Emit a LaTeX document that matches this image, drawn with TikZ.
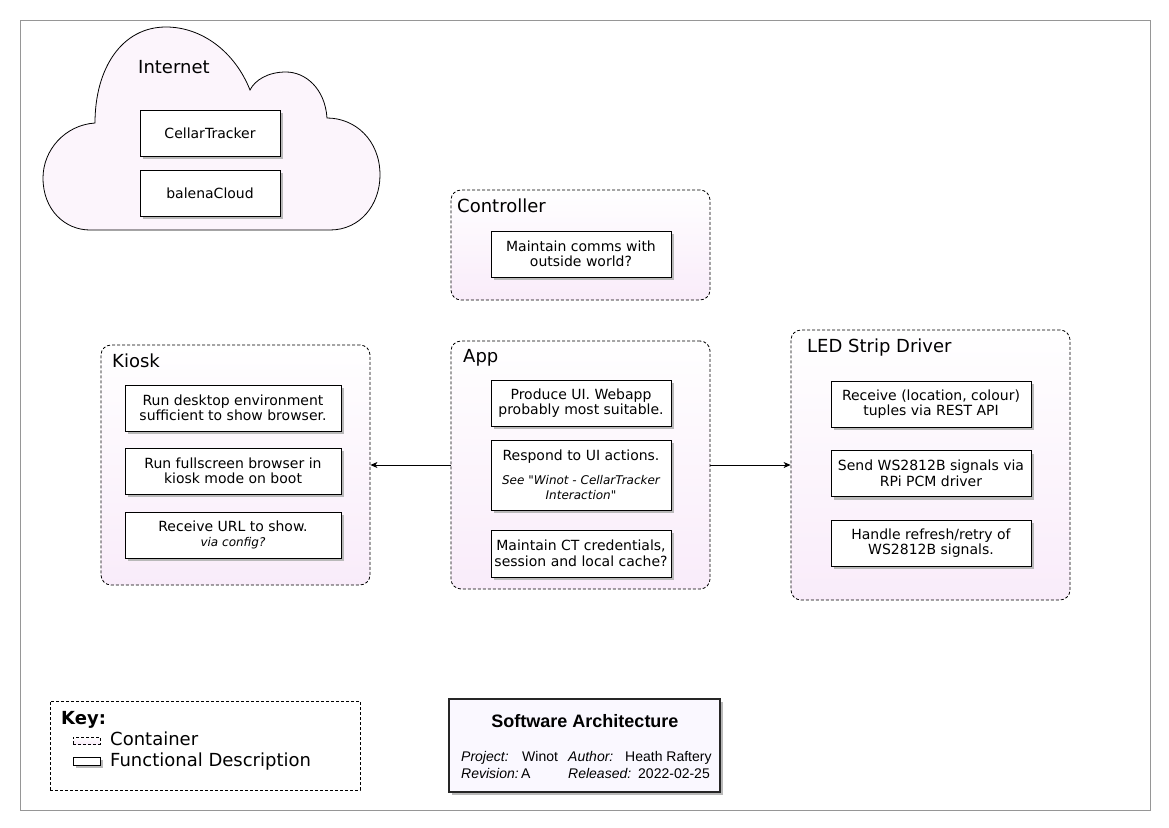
\documentclass[tikz,border=0pt]{standalone}
\usepackage{fontspec}
\setmainfont{DejaVu Sans}
\newfontfamily\titlefont{Liberation Sans}
\usepackage{tikz}
\usepackage{xcolor}
\usetikzlibrary{arrows.meta, positioning, shadows}
\definecolor{cPink}{RGB}{249,236,250}
\definecolor{cCloud}{RGB}{252,245,252}
\definecolor{cFrame}{RGB}{150,150,150}
\definecolor{cShadow}{RGB}{185,185,185}
\definecolor{cTitle}{RGB}{250,248,255}
\tikzset{
	container/.style={rectangle, rounded corners=10pt, draw=black, dash pattern=on 3pt off 2pt, line width=0.8pt, top color=white, bottom color=cPink},
	ctitle/.style   ={anchor=base west, inner sep=0pt, font=\fontsize{18}{21}\selectfont},
	func/.style     ={rectangle, draw=black, line width=1pt, fill=white, align=center, font=\fontsize{14}{15.5}\selectfont, drop shadow={shadow xshift=3pt, shadow yshift=-3pt, fill=cShadow, opacity=1}},
	keyframe/.style ={rectangle, draw=black, dash pattern=on 3pt off 2pt, line width=0.8pt, fill=white},
	tblock/.style   ={rectangle, draw=black!85, line width=2pt, fill=cTitle, drop shadow={shadow xshift=3pt, shadow yshift=-3pt, fill=cShadow, opacity=1}},
	tbtext/.style   ={anchor=base west, inner sep=0pt, font=\titlefont\fontsize{14}{16}\selectfont},
	sig/.style      ={-{Stealth[length=7pt, width=6pt, inset=2pt]}, line width=0.8pt},
}
\newcommand{\smallnote}{\fontsize{12}{14}\selectfont\itshape}
\begin{document}
\begin{tikzpicture}[x=1pt, y=-1pt]
	\useasboundingbox (0,0) rectangle (1169,827);
	% page frame
	\draw[cFrame, line width=0.8pt] (20,20) rectangle (1150,810);
	% internet cloud
	\filldraw[fill=cCloud, line width=0.8pt] (90,230) -- (330,230)
		.. controls (360,230) and (380,205) .. (380,175)
		.. controls (380,140) and (355,118) .. (327,118)
		.. controls (325,88) and (305,72) .. (286,72)
		.. controls (268,72) and (255,80) .. (250,90)
		.. controls (235,52) and (202,27) .. (166,27)
		.. controls (122,27) and (95,68) .. (95,123)
		.. controls (65,125) and (43,150) .. (43,178)
		.. controls (43,210) and (65,230) .. (90,230) -- cycle;
	\node[ctitle] (internet) at (138,73) {Internet};
	\node[func, minimum width=140pt, minimum height=46pt] (cellar) at (210,133) {CellarTracker};
	\node[func, minimum width=140pt, minimum height=46pt] (balena) at (210,193) {balenaCloud};
	% controller
	\node[container, minimum width=259pt, minimum height=110pt] (ctrl) at (580.5,245) {};
	\node[ctitle] at (457,212) {Controller};
	\node[func, minimum width=180pt, minimum height=46pt] (ctrlComms) at (581,254) {Maintain comms with\\outside world?};
	% kiosk
	\node[container, minimum width=269pt, minimum height=240pt] (kiosk) at (235.5,465) {};
	\node[ctitle] at (112,367) {Kiosk};
	\node[func, minimum width=216pt, minimum height=46pt] (kioskDesk) at (233,408) {Run desktop environment\\sufficient to show browser.};
	\node[func, minimum width=216pt, minimum height=46pt] (kioskBrowser) at (233,471) {Run fullscreen browser in\\kiosk mode on boot};
	\node[func, minimum width=216pt, minimum height=46pt] (kioskUrl) at (233,535) {Receive URL to show.\\{\smallnote via config?}};
	% app
	\node[container, minimum width=259pt, minimum height=248pt] (app) at (580.5,465) {};
	\node[ctitle] at (463,362) {App};
	\node[func, minimum width=180pt, minimum height=70pt] (appUi) at (581,403) [minimum height=46pt] {Produce UI. Webapp\\probably most suitable.};
	\node[func, minimum width=180pt, minimum height=70pt] (appActions) at (581,475) {Respond to UI actions.\\[8pt]{\smallnote See \textquotedbl Winot - CellarTracker}\\{\smallnote Interaction\textquotedbl}};
	\node[func, minimum width=180pt, minimum height=47pt] (appCache) at (581,553.5) {Maintain CT credentials,\\session and local cache?};
	% led strip driver
	\node[container, minimum width=279pt, minimum height=270pt] (led) at (930.5,465) {};
	\node[ctitle] at (807,352) {LED Strip Driver};
	\node[func, minimum width=200pt, minimum height=46pt] (ledRest) at (931,404) {Receive (location, colour)\\tuples via REST API};
	\node[func, minimum width=200pt, minimum height=46pt] (ledPcm) at (931,473.5) {Send WS2812B signals via\\RPi PCM driver};
	\node[func, minimum width=200pt, minimum height=46pt] (ledRetry) at (931,543) {Handle refresh/retry of\\WS2812B signals.};
	% connectors
	\draw[sig] (app.west) -- (kiosk.east |- app.west);
	\draw[sig] (app.east) -- (led.west |- app.east);
	% key
	\node[keyframe, minimum width=310pt, minimum height=89pt] (key) at (205,745.5) {};
	\node[ctitle, font=\fontsize{18}{21}\selectfont\bfseries] at (61,724) {Key:};
	\node[container, rounded corners=0pt, minimum width=27pt, minimum height=7pt, inner sep=0pt] (keyCont) at (86.5,740.5) {};
	\node[func, minimum width=27pt, minimum height=8pt, inner sep=0pt] (keyFunc) at (86.5,761) {};
	\node[ctitle] at (110,745) {Container};
	\node[ctitle] at (110,766) {Functional Description};
	% title block
	\node[tblock, minimum width=271pt, minimum height=93pt] (titleBlock) at (584.5,745.5) {};
	\node[inner sep=0pt, font=\titlefont\fontsize{18}{21}\selectfont\bfseries, anchor=base] at (585,727) {Software Architecture};
	\node[tbtext] at (461,761) {\itshape Project:};
	\node[tbtext] at (522,761) {Winot};
	\node[tbtext] at (568,761) {\itshape Author:};
	\node[tbtext] at (625,761) {Heath Raftery};
	\node[tbtext] at (461,778) {\itshape Revision:};
	\node[tbtext] at (521,778) {A};
	\node[tbtext] at (568,778) {\itshape Released:};
	\node[tbtext] at (638,778) {2022-02-25};
\end{tikzpicture}
\end{document}
